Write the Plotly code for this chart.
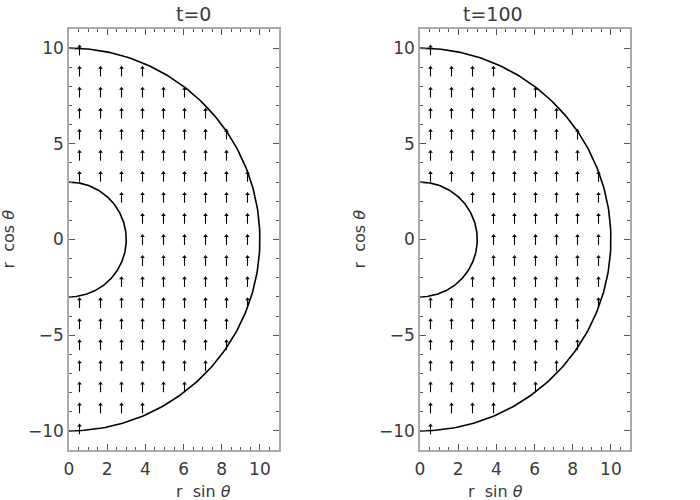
import numpy as np
import plotly.graph_objects as go

# panel titles
titles = ["t=0", "t=100"]

# grid of the velocity vectors (r sin theta, r cos theta)
x_cols = [0.55, 1.65, 2.75, 3.85, 4.95, 6.05, 7.15, 8.25, 9.35, 10.45]
y_rows = [-9.9, -8.8, -7.7, -6.6, -5.5, -4.4, -3.3, -2.2, -1.1, 0.0,
          1.1, 2.2, 3.3, 4.4, 5.5, 6.6, 7.7, 8.8, 9.9]
# field components (uniform, pointing up) in both snapshots
vx = [0.0, 0.0]
vy = [0.56, 0.56]

r_inner = 3.0
r_outer = 10.0

W, H = 700, 500
FONT = "DejaVu Sans"
TXT = "#3a3a3a"

fig = go.Figure()

# plot areas in pixels: (left, right), (top, bottom)
xpix = [(69, 279), (420, 630)]
ypix = (29, 450)
xdom = [[a / W, b / W] for a, b in xpix]
ydom = [1 - ypix[1] / H, 1 - ypix[0] / H]

for i, t in enumerate(titles):
    xa = "x" if i == 0 else "x2"
    ya = "y" if i == 0 else "y2"

    # the two boundary half-circles
    th = np.linspace(0, np.pi, 200)
    for r in [r_inner, r_outer]:
        fig.add_trace(go.Scatter(x=r * np.sin(th), y=r * np.cos(th), mode="lines",
                                 line=dict(color="black", width=1.6),
                                 xaxis=xa, yaxis=ya, showlegend=False, hoverinfo="skip"))

    # arrows inside the shell
    sx, sy, hx, hy = [], [], [], []
    for xc in x_cols:
        for yc in y_rows:
            rr = np.hypot(xc, yc)
            if rr <= r_inner or rr > r_outer:
                continue
            x0, y0 = xc - vx[i] / 2, yc - vy[i] / 2
            x1, y1 = xc + vx[i] / 2, yc + vy[i] / 2
            sx += [x0, x1, None]
            sy += [y0, y1 - 0.1, None]
            hx.append(x1)
            hy.append(y1 - 0.1)
    fig.add_trace(go.Scatter(x=sx, y=sy, mode="lines", line=dict(color="black", width=1.1),
                             xaxis=xa, yaxis=ya, showlegend=False, hoverinfo="skip"))
    fig.add_trace(go.Scatter(x=hx, y=hy, mode="markers",
                             marker=dict(symbol="triangle-up", size=4, color="black",
                                         line=dict(width=0)),
                             xaxis=xa, yaxis=ya, showlegend=False, hoverinfo="skip"))

    axis_common = dict(showgrid=False, zeroline=False, showline=True, linecolor="#aaaaaa",
                       linewidth=1.5, mirror="ticks", ticks="inside", tickcolor="#555555",
                       ticklen=6, tickwidth=1, automargin=False,
                       tickfont=dict(family=FONT, size=17, color=TXT))
    xname = "xaxis" if i == 0 else "xaxis2"
    yname = "yaxis" if i == 0 else "yaxis2"
    fig.layout[xname] = dict(axis_common, domain=xdom[i], range=[0, 11], dtick=2, tick0=0,
                             anchor=ya, ticklabelstandoff=3,
                             minor=dict(dtick=0.5, ticks="inside", ticklen=3,
                                        tickcolor="#555555"))
    fig.layout[yname] = dict(axis_common, domain=ydom, range=[-11, 11], dtick=5, tick0=0,
                             anchor=xa, ticklabelstandoff=0,
                             minor=dict(dtick=1, ticks="inside", ticklen=3,
                                        tickcolor="#555555"))

    xc_pix = (xpix[i][0] + xpix[i][1]) / 2
    fig.add_annotation(text=t, x=xc_pix / W, y=1 - 14 / H, xref="paper", yref="paper",
                       yanchor="middle", showarrow=False,
                       font=dict(family=FONT, size=19, color=TXT))
    fig.add_annotation(text="r  sin <i>θ</i>", x=xc_pix / W, y=1 - 491 / H, xref="paper",
                       yref="paper", yanchor="middle", showarrow=False,
                       font=dict(family=FONT, size=16, color=TXT))
    fig.add_annotation(text="r  cos <i>θ</i>", x=(xpix[i][0] - 61) / W,
                       y=1 - (ypix[0] + ypix[1]) / 2 / H, xref="paper", yref="paper",
                       xanchor="center", yanchor="middle", textangle=-90, showarrow=False,
                       font=dict(family=FONT, size=16, color=TXT))

fig.update_layout(width=W, height=H, margin=dict(l=0, r=0, t=0, b=0),
                  plot_bgcolor="white", paper_bgcolor="white")

fig.write_html("out.html", config={"displayModeBar": False},
               post_script="document.body.style.margin='0px';")
